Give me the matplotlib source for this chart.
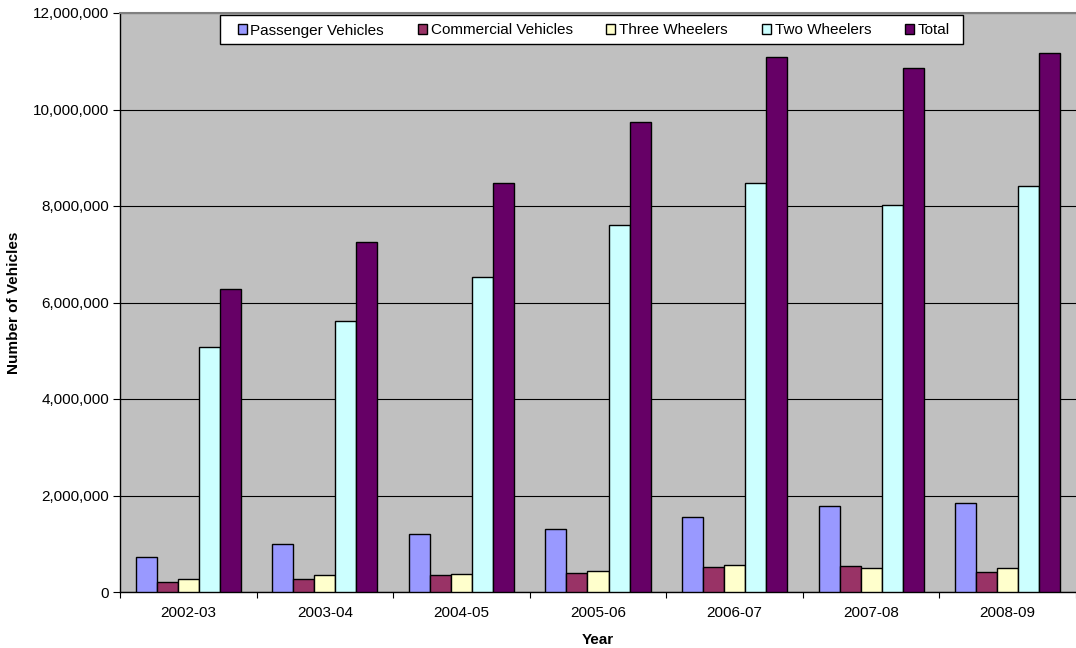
import matplotlib
matplotlib.use("Agg")
import matplotlib.pyplot as plt
from matplotlib.patches import Rectangle
from matplotlib.ticker import FuncFormatter, FixedLocator
import numpy as np

plt.rcParams['font.family'] = ['Liberation Sans', 'DejaVu Sans']

years = ["2002-03", "2003-04", "2004-05", "2005-06", "2006-07", "2007-08", "2008-09"]
series_names = ["Passenger Vehicles", "Commercial Vehicles", "Three Wheelers",
                "Two Wheelers", "Total"]
passenger = [723330, 989560, 1209876, 1309300, 1545223, 1777583, 1838593]
commercial = [203697, 275040, 353703, 391083, 519982, 549006, 416870]
three_wheelers = [276719, 356223, 374445, 434423, 556126, 500660, 501030]
two_wheelers = [5076221, 5622741, 6529829, 7608697, 8466666, 8026681, 8418626]
total = [6279967, 7243564, 8467853, 9743503, 11087997, 10853930, 11175119]
colors = ["#9999FF", "#993366", "#FFFFCC", "#CCFFFF", "#660066"]

W, H = 1076, 648
fig = plt.figure(figsize=(W / 100, H / 100), dpi=100)
fig.patch.set_facecolor("white")

left, right, top, bottom = 120, 1076, 13, 592
ax = fig.add_axes([left / W, 1 - bottom / H, (right - left) / W, (bottom - top) / H])
ax.set_facecolor("#C0C0C0")

n = len(years)
x = np.arange(n)
all_series = [passenger, commercial, three_wheelers, two_wheelers, total]
bw = 1 / 6.5
handles = []
for k, (vals, c, name) in enumerate(zip(all_series, colors, series_names)):
    b = ax.bar(x + (k - 2) * bw, vals, width=bw, color=c, edgecolor="black",
               linewidth=1.0, label=name, zorder=3)
    handles.append(b)

ax.set_xlim(-0.5, n - 0.5)
ax.set_ylim(0, 12000000)
ax.set_yticks(np.arange(0, 12000001, 2000000))
ax.yaxis.set_major_formatter(FuncFormatter(lambda v, p: f"{v:,.0f}"))
ax.yaxis.grid(True, color="black", linewidth=0.8, zorder=1)
ax.set_axisbelow(True)

ax.set_xticks(x)
ax.set_xticklabels(years)
ax.xaxis.set_minor_locator(FixedLocator(np.arange(-0.5, n, 1.0)))
ax.tick_params(axis="x", which="major", length=0, pad=10, labelsize=11, colors="black")
ax.tick_params(axis="x", which="minor", length=4, width=0.8, direction="out")
ax.tick_params(axis="y", length=5, width=0.8, direction="out", pad=3, labelsize=11)

for s in ["left", "bottom"]:
    ax.spines[s].set_color("black")
    ax.spines[s].set_linewidth(1.0)
ax.spines["right"].set_visible(False)
ax.spines["top"].set_color("#808080")
ax.spines["top"].set_linewidth(1.5)

fig.text((left + right) / 2 / W, 1 - 644 / H, "Year", ha="center", va="baseline",
         fontsize=11, fontweight="bold")
fig.text(21 / W, 1 - (top + bottom) / 2 / H, "Number of Vehicles", rotation=90,
         ha="right", va="center", fontsize=11, fontweight="bold")

# legend box
box = Rectangle((220 / W, 1 - 44 / H), (963 - 220) / W, 29 / H,
                transform=fig.transFigure, facecolor="white", edgecolor="black",
                linewidth=1.0, zorder=4)
fig.patches.append(box)
leg = fig.legend(handles=handles, labels=series_names, loc="center left",
                 bbox_to_anchor=(237.5 / W, 1 - 30.5 / H), ncol=5, frameon=False,
                 fontsize=11, handlelength=0.6, handleheight=0.6,
                 handletextpad=0.25, columnspacing=2.2, borderpad=0,
                 borderaxespad=0)
leg.set_zorder(5)

fig.savefig("out.png", dpi=100)
